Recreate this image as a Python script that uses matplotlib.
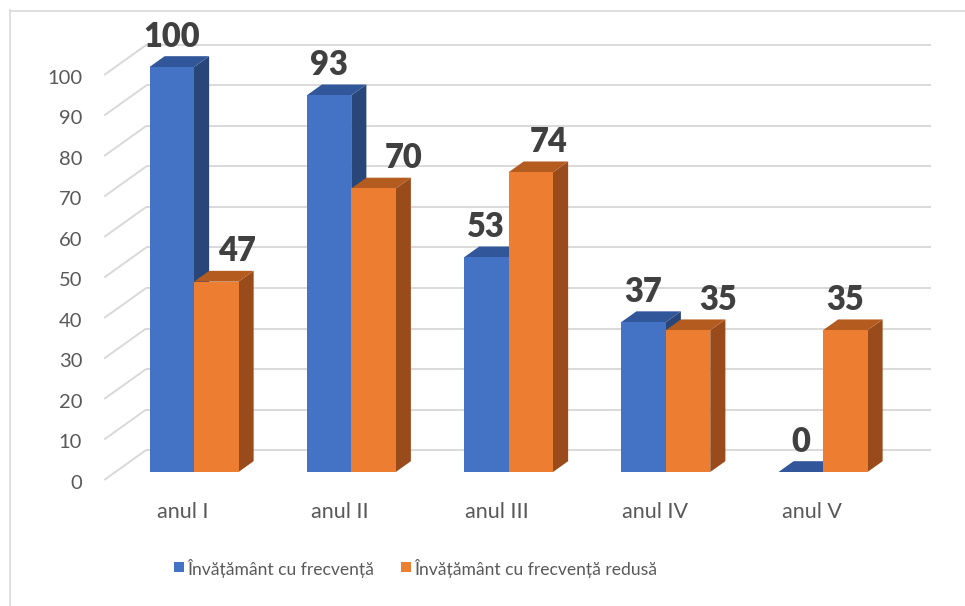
import matplotlib
matplotlib.use("Agg")
import matplotlib.pyplot as plt
from matplotlib.patches import Polygon, Rectangle
from matplotlib.lines import Line2D

categories = ["anul I", "anul II", "anul III", "anul IV", "anul V"]
series_names = ["Învățământ cu frecvență", "Învățământ cu frecvență redusă"]
freq = [100, 93, 53, 37, 0]
freq_red = [47, 70, 74, 35, 35]
yticks = list(range(0, 101, 10))

FONT = ["Lato", "DejaVu Sans"]
plt.rcParams["font.family"] = FONT

W, H = 965, 606
fig = plt.figure(figsize=(W / 100, H / 100), dpi=100)
ax = fig.add_axes([0, 0, 1, 1])
ax.set_axis_off()

# pixel geometry of the pseudo-3D projection
X0_PX, CAT_PX = 182.8, 157.25     # front-plane category origin & spacing
Y0_PX, UNIT_PX = 480.0, 4.05      # front-plane zero & px per unit
ax.set_xlim(-X0_PX / CAT_PX, (W - X0_PX) / CAT_PX)
ax.set_ylim((Y0_PX - H) / UNIT_PX, Y0_PX / UNIT_PX)

DX = 42 / CAT_PX     # depth offset (category units)
DY = 30 / UNIT_PX    # depth offset (value units)
D0, D1 = 0.267, 0.627
BW = 0.283

grid_c = "#D9D9D9"
# back wall gridlines + side diagonals
for v in yticks:
    ax.plot([-0.5 + DX, 4.49 + DX], [v + DY, v + DY], color=grid_c, lw=1.4, zorder=1,
            solid_capstyle="butt")
    ax.plot([-0.5, -0.5 + DX], [v, v + DY], color=grid_c, lw=1.4, zorder=1,
            solid_capstyle="butt")
    ax.text(-0.5 - 22 / CAT_PX, v - 2.2, str(v), ha="right", va="baseline",
            fontsize=14.5, color="#595959")

for i, c in enumerate(categories):
    ax.text(i, -9.4, c, ha="center", va="baseline", fontsize=15.5, color="#595959")

colors = [("#4472C4", "#31569A", "#284678"), ("#ED7D31", "#B45B20", "#9A4B1B")]
label_nudge = [[0, 0, 0, 0, 0], [0.134, 0.191, 0.114, 0.191, 0.0]]

for i in range(len(categories)):
    for s, vals in enumerate([freq, freq_red]):
        v = vals[i]
        xl = i - BW if s == 0 else i
        front, top, side = colors[s]
        z = 2 + i * 0.1 + s * 0.05
        # side face
        ax.add_patch(Polygon([(xl + BW + D0 * DX, D0 * DY), (xl + BW + D1 * DX, D1 * DY),
                              (xl + BW + D1 * DX, v + D1 * DY), (xl + BW + D0 * DX, v + D0 * DY)],
                             closed=True, facecolor=side, edgecolor="none", zorder=z))
        # top face
        ax.add_patch(Polygon([(xl + D0 * DX, v + D0 * DY), (xl + BW + D0 * DX, v + D0 * DY),
                              (xl + BW + D1 * DX, v + D1 * DY), (xl + D1 * DX, v + D1 * DY)],
                             closed=True, facecolor=top, edgecolor="none", zorder=z))
        # front face
        if v > 0:
            ax.bar(xl + D0 * DX, v, bottom=D0 * DY, width=BW, align="edge",
                   color=front, edgecolor="none", zorder=z + 0.01)
        ax.text(xl + D0 * DX + BW / 2 + label_nudge[s][i], v + D0 * DY + 5.0,
                str(v), ha="center", va="baseline", fontsize=23.5, fontweight="heavy",
                color="#404040", zorder=10)

# legend (manual)
leg = [(174, 187, colors[0][0], series_names[0]), (401, 414, colors[1][0], series_names[1])]
for sx, tx, col, name in leg:
    fig.patches.append(Rectangle((sx / W, 1 - 572 / H), 10 / W, 10 / H,
                                 transform=fig.transFigure, facecolor=col, edgecolor="none"))
    fig.text(tx / W, 1 - 575 / H, name, ha="left", va="baseline", fontsize=12.6,
             color="#595959")

# outer frame
fig.add_artist(Line2D([9.5 / W, 9.5 / W], [1 - 10 / H, 0], transform=fig.transFigure,
                      color="#D9D9D9", lw=1.2))
fig.add_artist(Line2D([9.5 / W, 1], [1 - 10.5 / H, 1 - 10.5 / H], transform=fig.transFigure,
                      color="#D9D9D9", lw=1.2))

fig.savefig("out.png", dpi=100)
